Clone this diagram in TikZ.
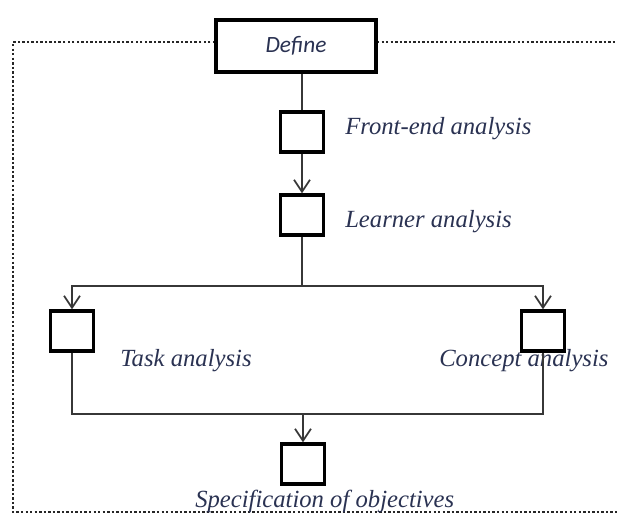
\documentclass[tikz,border=0pt]{standalone}
\usepackage{fontspec}
\setmainfont{Liberation Serif}
\newfontfamily\calib{Carlito}
\usetikzlibrary{arrows.meta}
\definecolor{txt}{RGB}{42,50,82}
\definecolor{ln}{RGB}{55,55,55}
\tikzset{
  x=0.75pt, y=-0.75pt,
  sq/.style={draw=black, line width=2.5pt, fill=white, minimum width=32.5pt, minimum height=30pt, inner sep=0pt},
  defbox/.style={draw=black, line width=2.5pt, fill=white, minimum width=120pt, minimum height=39pt, inner sep=0pt,
     font=\calib\itshape\fontsize{17.5}{20}\selectfont, text=txt},
  lab/.style={anchor=base west, inner sep=0pt, font=\itshape\fontsize{18.5}{22}\selectfont, text=txt},
  conn/.style={draw=ln, line width=1.4pt},
  arr/.style={conn, -{Straight Barb[length=9pt,width=12pt,line width=1.3pt]}},
  frame/.style={draw=black!85, line width=1.8pt, dash pattern=on 1.8pt off 1.6pt}
}
\begin{document}
\begin{tikzpicture}
\useasboundingbox (0,0) rectangle (617,514);
% frame
\coordinate (fl) at (13,42);
\coordinate (fbl) at (13,512);
\coordinate (fbr) at (617,512);
\coordinate (ftr) at (617,42);
\draw[frame] (215,42) -- (fl) -- (fbl) -- (fbr);
\draw[frame] (377,42) -- (ftr);
% nodes
\node[defbox] (define) at (296,46) {Define};
\node[sq] (fe) at (302,132) {};
\node[sq] (ln) at (302,215) {};
\node[sq] (task) at (72,331) {};
\node[sq] (concept) at (543,331) {};
\node[sq] (spec) at (303,464) {};
% labels
\node[lab] (lfe) at (345,134) {Front-end analysis};
\node[lab] (lln) at (345,227) {Learner analysis};
\node[lab] (ltask) at (120,366) {Task analysis};
\node[lab] (lspec) at (195,507) {Specification of objectives};
% connectors
\coordinate (split) at (302,286);
\coordinate (join) at (303,414);
\draw[conn] (fe.north |- define.south) -- (fe.north);
\draw[arr] (fe.south) -- (ln.north);
\draw[conn] (ln.south) -- (split);
\draw[arr] (split) -| (task.north);
\draw[arr] (split) -| (concept.north);
\draw[conn] (task.south) |- (join);
\node[lab] (lconcept) at (439,366) {Concept analysis};
\draw[conn] (concept.south) |- (join);
\draw[arr] (join) -- (spec.north);
\end{tikzpicture}
\end{document}
